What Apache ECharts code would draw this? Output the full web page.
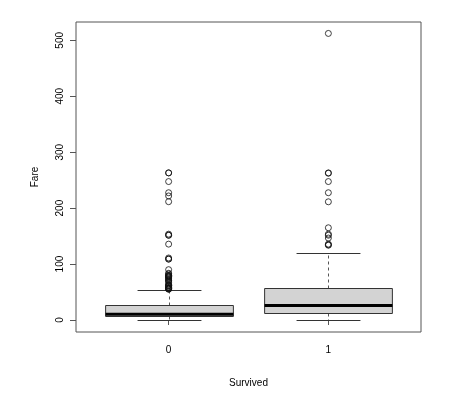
<!DOCTYPE html>
<html><head><meta charset="utf-8">
<script src="https://cdn.jsdelivr.net/npm/echarts@6/dist/echarts.min.js"></script>
<style>html,body{margin:0;padding:0;background:#fff}#c{width:464px;height:394px}</style>
</head><body><div id="c"></div>
<script>
const categories = ['0', '1'];
const lowerWhisker = [0, 0];
const q1 = [7.8958, 12.475];
const median = [10.5, 26];
const q3 = [26, 57];
const upperWhisker = [53.1, 120];
const outliers0 = [263, 263, 247.52, 227.53, 221.78, 211.5, 153.46, 151.55, 151.55, 135.63, 110.88, 108.9, 108.9,
  90, 83.48, 82.17, 79.65, 79.2, 78.85, 77.96, 77.29, 76.73, 75.25, 73.5, 71.28, 71, 69.55, 66.6, 63.36,
  61.98, 61.38, 61.18, 59.4, 57.98, 57.5, 56.93, 56.5, 55.9, 55.44, 55];
const outliers1 = [512.33, 263, 262.38, 247.52, 227.53, 211.34, 164.87, 153.46, 151.55, 146.52, 135.63, 134.5, 133.65];
const yTicks = [0, 100, 200, 300, 400, 500];

const boxData = categories.map((c, i) => [i + 1, lowerWhisker[i], q1[i], median[i], q3[i], upperWhisker[i]]);
const outData = [];
outliers0.forEach(v => outData.push([1, v]));
outliers1.forEach(v => outData.push([2, v]));

const lineCol = '#333';
const chart = echarts.init(document.getElementById('c'), null, {renderer: 'canvas'});
chart.setOption({
  animation: false,
  textStyle: {fontFamily: 'Liberation Sans, Arial, sans-serif'},
  grid: {left: 76, right: 43, top: 22, bottom: 62, show: true, borderColor: '#555', borderWidth: 1, backgroundColor: 'transparent'},
  xAxis: {
    type: 'value', min: 0.42, max: 2.58,
    name: 'Survived', nameLocation: 'middle', nameGap: 46,
    nameTextStyle: {fontSize: 10, color: '#000'},
    axisLine: {show: false},
    splitLine: {show: false},
    axisTick: {show: true, length: 5, lineStyle: {color: '#555'}, customValues: [1, 2]},
    axisLabel: {color: '#000', fontSize: 10, margin: 13, customValues: [1, 2],
      formatter: v => categories[Math.round(v) - 1]}
  },
  yAxis: {
    type: 'value', min: -21.45, max: 532.75,
    name: 'Fare', nameLocation: 'middle', nameGap: 36, nameRotate: 90,
    nameTextStyle: {fontSize: 10, color: '#000'},
    axisLine: {show: false},
    splitLine: {show: false},
    axisTick: {show: true, length: 6, lineStyle: {color: '#555'}, customValues: yTicks},
    axisLabel: {color: '#000', fontSize: 10, rotate: 90, margin: 11, customValues: yTicks}
  },
  series: [
    {
      type: 'custom',
      data: boxData,
      renderItem: function (params, api) {
        const x = api.value(0);
        const w = api.size([0.8, 0])[0];
        const cw = api.size([0.4, 0])[0];
        const pLo = api.coord([x, api.value(1)]);
        const pQ1 = api.coord([x, api.value(2)]);
        const pMed = api.coord([x, api.value(3)]);
        const pQ3 = api.coord([x, api.value(4)]);
        const pHi = api.coord([x, api.value(5)]);
        const cx = Math.round(pQ1[0]) + 0.5;
        const snap = y => Math.round(y) + 0.5;
        return {
          type: 'group',
          children: [
            {type: 'line', shape: {x1: cx, y1: snap(pQ3[1]), x2: cx, y2: snap(pHi[1])}, style: {stroke: '#555', lineWidth: 1, lineDash: [3, 3]}},
            {type: 'line', shape: {x1: cx, y1: snap(pQ1[1]), x2: cx, y2: snap(pLo[1])}, style: {stroke: '#555', lineWidth: 1, lineDash: [3, 3]}},
            {type: 'line', shape: {x1: cx - cw / 2, y1: snap(pHi[1]), x2: cx + cw / 2, y2: snap(pHi[1])}, style: {stroke: lineCol, lineWidth: 1}},
            {type: 'line', shape: {x1: cx - cw / 2, y1: snap(pLo[1]), x2: cx + cw / 2, y2: snap(pLo[1])}, style: {stroke: lineCol, lineWidth: 1}},
            {type: 'rect', shape: {x: cx - w / 2, y: snap(pQ3[1]), width: w, height: snap(pQ1[1]) - snap(pQ3[1])}, style: {fill: '#d3d3d3', stroke: lineCol, lineWidth: 1}},
            {type: 'line', shape: {x1: cx - w / 2, y1: pMed[1], x2: cx + w / 2, y2: pMed[1]}, style: {stroke: '#000', lineWidth: 3}}
          ]
        };
      }
    },
    {
      type: 'scatter',
      data: outData,
      symbol: 'circle',
      symbolSize: 6,
      itemStyle: {color: 'transparent', borderColor: '#111', borderWidth: 1}
    }
  ]
});
</script></body></html>
